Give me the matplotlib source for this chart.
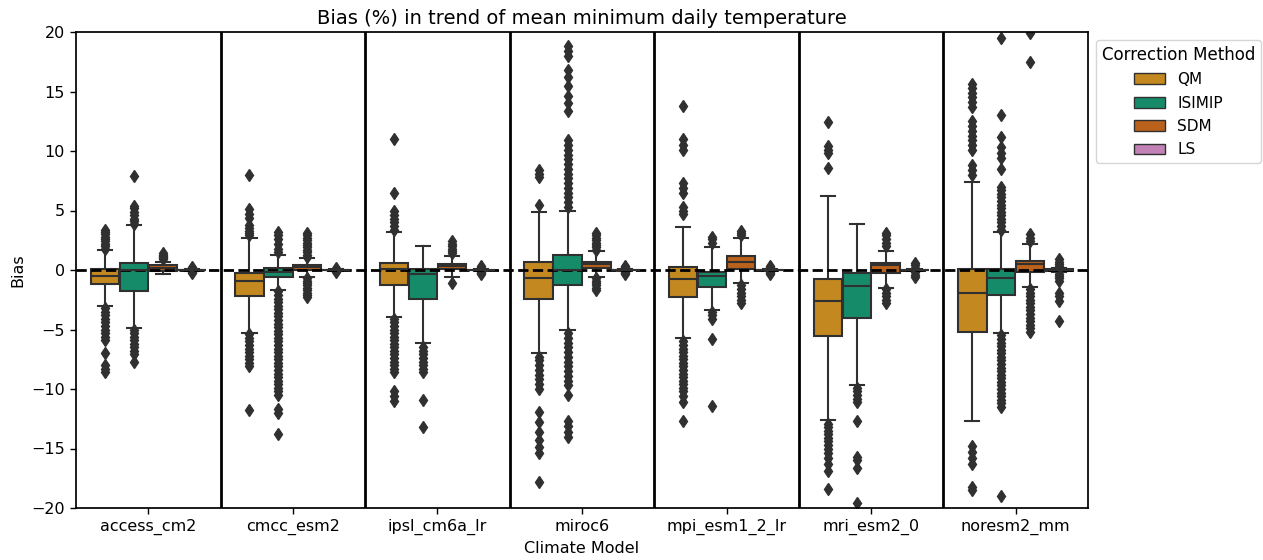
import colorsys
import matplotlib
matplotlib.use("Agg")
import matplotlib.pyplot as plt
import matplotlib.colors as mcolors
from matplotlib.patches import Patch

models = ["access_cm2", "cmcc_esm2", "ipsl_cm6a_lr", "miroc6",
          "mpi_esm1_2_lr", "mri_esm2_0", "noresm2_mm"]
methods = ["QM", "ISIMIP", "SDM", "LS"]
base_colors = ["#DE8F05", "#029E73", "#D55E00", "#CC78BC"]

# rows: models, columns: methods (QM, ISIMIP, SDM, LS)
q1 = [[-1.18, -1.74, -0.06, -0.03],
      [-2.22, -0.56, 0.00, -0.03],
      [-1.26, -2.42, 0.06, -0.03],
      [-2.46, -1.26, 0.14, -0.03],
      [-2.24, -1.46, 0.06, -0.03],
      [-5.56, -4.00, -0.28, -0.04],
      [-5.20, -2.10, -0.14, -0.05]]
med = [[-0.48, 0.00, 0.17, 0.00],
       [-0.90, -0.14, 0.26, 0.00],
       [0.05, -0.30, 0.34, 0.00],
       [-0.64, 0.00, 0.50, 0.00],
       [-0.76, -0.50, 0.64, 0.00],
       [-2.60, -1.38, 0.42, 0.00],
       [-1.92, -0.64, 0.48, 0.00]]
q3 = [[0.05, 0.56, 0.42, 0.03],
      [-0.22, 0.20, 0.42, 0.03],
      [0.56, 0.10, 0.48, 0.03],
      [0.64, 1.26, 0.64, 0.03],
      [0.28, -0.14, 1.18, 0.03],
      [-0.78, -0.24, 0.56, 0.04],
      [0.06, 0.06, 0.78, 0.05]]
whislo = [[-3.05, -4.84, -0.34, -0.08],
          [-5.26, -1.65, -0.63, -0.08],
          [-3.94, -6.10, -0.62, -0.08],
          [-7.00, -5.00, -0.56, -0.08],
          [-5.74, -3.34, -1.10, -0.08],
          [-12.60, -9.70, -1.53, -0.10],
          [-12.66, -5.26, -1.44, -0.15]]
whishi = [[1.65, 3.76, 0.64, 0.08],
          [2.70, 1.23, 1.00, 0.08],
          [3.16, 2.00, 1.20, 0.08],
          [4.85, 5.00, 1.56, 0.08],
          [3.64, 1.95, 2.70, 0.08],
          [6.20, 3.90, 1.60, 0.10],
          [7.40, 3.16, 2.17, 0.15]]
fliers = [
    # access_cm2
    [[1.8, 2.0, 2.2, 2.4, 2.6, 2.8, 3.0, 3.2, 3.4,
      -3.2, -3.5, -3.8, -4.1, -4.4, -4.7, -5.0, -5.3, -5.6, -5.9, -7.0, -8.0, -8.3, -8.6],
     [3.9, 4.1, 4.3, 4.6, 4.9, 5.2, 5.4, 7.9,
      -5.0, -5.3, -5.6, -5.9, -6.2, -6.5, -6.8, -7.1, -7.7],
     [0.9, 1.0, 1.1, 1.2, 1.3, 1.4],
     [0.12, 0.2, 0.28, -0.12, -0.2, -0.26]],
    # cmcc_esm2
    [[2.9, 3.1, 3.3, 3.5, 3.8, 4.4, 4.7, 5.1, 8.0,
      -5.4, -5.7, -6.0, -6.3, -6.6, -6.9, -7.2, -7.5, -7.8, -8.1, -11.8],
     [1.5, 1.8, 2.2, 2.6, 2.9, 3.2,
      -1.8, -2.1, -2.4, -2.7, -3.0, -3.3, -3.6, -3.9, -4.2, -4.5, -4.8, -5.1,
      -5.4, -5.7, -6.0, -6.3, -6.6, -6.9, -7.2, -7.5, -7.8, -8.1, -8.4, -8.7,
      -9.0, -9.3, -9.6, -9.9, -10.2, -10.5, -11.7, -12.0, -13.8],
     [1.1, 1.3, 1.5, 1.7, 1.9, 2.1, 2.3, 2.5, 2.7, 2.9, 3.1,
      -0.7, -0.9, -1.1, -1.3, -1.5, -1.7, -1.9, -2.1, -2.3],
     [0.12, 0.2, -0.12, -0.2]],
    # ipsl_cm6a_lr
    [[3.4, 3.7, 4.0, 4.3, 4.6, 5.0, 6.5, 11.0,
      -4.1, -4.4, -4.7, -5.0, -5.3, -5.6, -5.9, -6.2, -6.5, -6.8, -7.1, -7.4,
      -7.7, -8.0, -8.3, -8.6, -10.2, -10.6, -11.0],
     [-6.5, -6.8, -7.1, -7.4, -7.7, -8.0, -8.3, -8.6, -10.9, -13.2],
     [1.4, 1.6, 1.8, 2.0, 2.2, 2.4, -1.1],
     [0.15, 0.25, 0.3, -0.15, -0.25, -0.3]],
    # miroc6
    [[5.5, 7.8, 8.1, 8.4,
      -7.3, -7.6, -8.0, -8.4, -8.8, -9.2, -9.6, -10.0,
      -11.9, -12.8, -13.6, -14.3, -14.9, -15.4, -17.8],
     [5.3, 5.7, 6.1, 6.5, 6.9, 7.3, 7.7, 8.1, 8.5, 8.9, 9.3, 9.7, 10.1, 10.5, 10.9,
      13.4, 14.0, 14.6, 15.5, 16.2, 16.8, 18.0, 18.4, 18.8,
      -5.3, -5.7, -6.1, -6.5, -6.9, -7.3, -7.7, -8.1, -8.5, -8.9, -9.3, -9.7,
      -10.5, -12.7, -13.1, -13.6, -14.0],
     [1.7, 1.9, 2.1, 2.3, 2.5, 2.7, 2.9, 3.1,
      -0.7, -0.9, -1.1, -1.3, -1.5, -1.7],
     [0.15, 0.25, 0.35, -0.15, -0.25, -0.35]],
    # mpi_esm1_2_lr
    [[4.7, 5.0, 5.3, 6.5, 6.9, 7.3, 10.1, 10.5, 11.0, 13.8,
      -6.0, -6.3, -6.6, -6.9, -7.2, -7.5, -7.8, -8.1, -8.4, -8.7, -9.0, -9.3,
      -9.6, -9.9, -10.2, -10.6, -11.1, -12.7],
     [2.3, 2.6, 2.8, -3.5, -3.8, -4.1, -5.8, -11.4],
     [2.9, 3.1, 3.3, -1.3, -1.6, -1.9, -2.2, -2.5, -2.8],
     [0.15, 0.25, 0.3, -0.15, -0.25, -0.3]],
    # mri_esm2_0
    [[8.6, 9.8, 10.1, 10.4, 12.4,
      -12.9, -13.2, -13.5, -13.8, -14.1, -14.4, -14.7, -15.0, -15.4, -15.8,
      -16.3, -16.9, -18.4],
     [-9.9, -10.2, -10.5, -10.8, -11.1, -12.7, -15.7, -16.0, -16.6, -19.6],
     [2.0, 2.3, 2.6, 2.9, 3.1, -1.6, -1.9, -2.2, -2.5, -2.8],
     [0.2, 0.4, 0.6, -0.2, -0.4, -0.6]],
    # noresm2_mm
    [[8.0, 8.4, 8.8, 10.1, 10.5, 10.9, 11.3, 11.7, 12.1, 12.5,
      13.7, 14.1, 14.5, 14.9, 15.3, 15.6,
      -14.8, -15.3, -15.8, -16.3, -18.2, -18.5],
     [3.4, 3.7, 4.0, 4.3, 4.6, 4.9, 5.2, 5.5, 5.8, 6.1, 6.4, 6.7, 7.0,
      8.5, 9.4, 9.8, 10.3, 11.2, 13.0, 19.5,
      -5.5, -5.8, -6.1, -6.4, -6.7, -7.0, -7.3, -7.6, -7.9, -8.2, -8.5, -8.8,
      -9.1, -9.4, -9.7, -10.0, -10.3, -10.6, -10.9, -11.2, -11.5, -19.0],
     [2.4, 2.7, 3.0, 17.5, 19.9,
      -1.6, -1.9, -2.2, -2.5, -2.8, -3.1, -3.4, -3.7, -4.0, -4.3, -4.6, -4.9, -5.2],
     [0.3, 0.5, 0.7, 0.9, -0.3, -0.5, -0.7, -0.9, -1.9, -2.2, -2.6, -4.3]],
]

title = "Bias (%) in trend of mean minimum daily temperature"
xlabel = "Climate Model"
ylabel = "Bias"
legend_title = "Correction Method"


def desaturate(c, prop):
    r, g, b = mcolors.to_rgb(c)
    h, l, s = colorsys.rgb_to_hls(r, g, b)
    return colorsys.hls_to_rgb(h, l, s * prop)


colors = [desaturate(c, 0.75) for c in base_colors]
lum = min(colorsys.rgb_to_hls(*c)[1] for c in colors) * 0.6
gray = (lum, lum, lum)

fig = plt.figure(figsize=(12.63, 5.60), dpi=100)
ax = fig.add_axes([76 / 1263, 1 - 508 / 560, 1012 / 1263, 476 / 560])

n_h = len(methods)
each_w = 0.8 / n_h
offsets = [(-0.4 + each_w / 2) + j * each_w for j in range(n_h)]
lw = 1.5

for j, m in enumerate(methods):
    stats = []
    pos = []
    for i in range(len(models)):
        stats.append(dict(med=med[i][j], q1=q1[i][j], q3=q3[i][j],
                          whislo=whislo[i][j], whishi=whishi[i][j],
                          fliers=fliers[i][j]))
        pos.append(i + offsets[j])
    ax.bxp(stats, positions=pos, widths=each_w * 0.98, patch_artist=True,
           manage_ticks=False,
           boxprops=dict(facecolor=colors[j], edgecolor=gray, linewidth=lw, zorder=0.9),
           medianprops=dict(color=gray, linewidth=lw),
           whiskerprops=dict(color=gray, linewidth=lw),
           capprops=dict(color=gray, linewidth=lw),
           flierprops=dict(marker="d", markerfacecolor=gray, markeredgecolor=gray,
                           markersize=6.5, linestyle="none"))

for b in range(len(models) - 1):
    ax.axvline(b + 0.5, color="black", linewidth=2)
ax.axhline(0, color="black", linestyle="--", linewidth=2)

ax.set_xlim(-0.5, len(models) - 0.5)
ax.set_ylim(-20, 20)
ax.set_xticks(range(len(models)))
ax.set_xticklabels(models)
ax.set_yticks(range(-20, 21, 5))
ax.tick_params(labelsize=11.5, width=1.0, length=4.5)
for sp in ax.spines.values():
    sp.set_linewidth(1.25)
ax.set_xlabel(xlabel, fontsize=11.5)
ax.set_ylabel(ylabel, fontsize=11.5)
ax.set_title(title, fontsize=14)

handles = [Patch(facecolor=colors[j], edgecolor=gray, linewidth=1.0, label=m)
           for j, m in enumerate(methods)]
leg = ax.legend(handles=handles, title=legend_title, loc="upper left",
                bbox_to_anchor=(1, 1), fontsize=11, title_fontsize=12,
                labelspacing=0.55)

fig.savefig("out.png", dpi=100)
